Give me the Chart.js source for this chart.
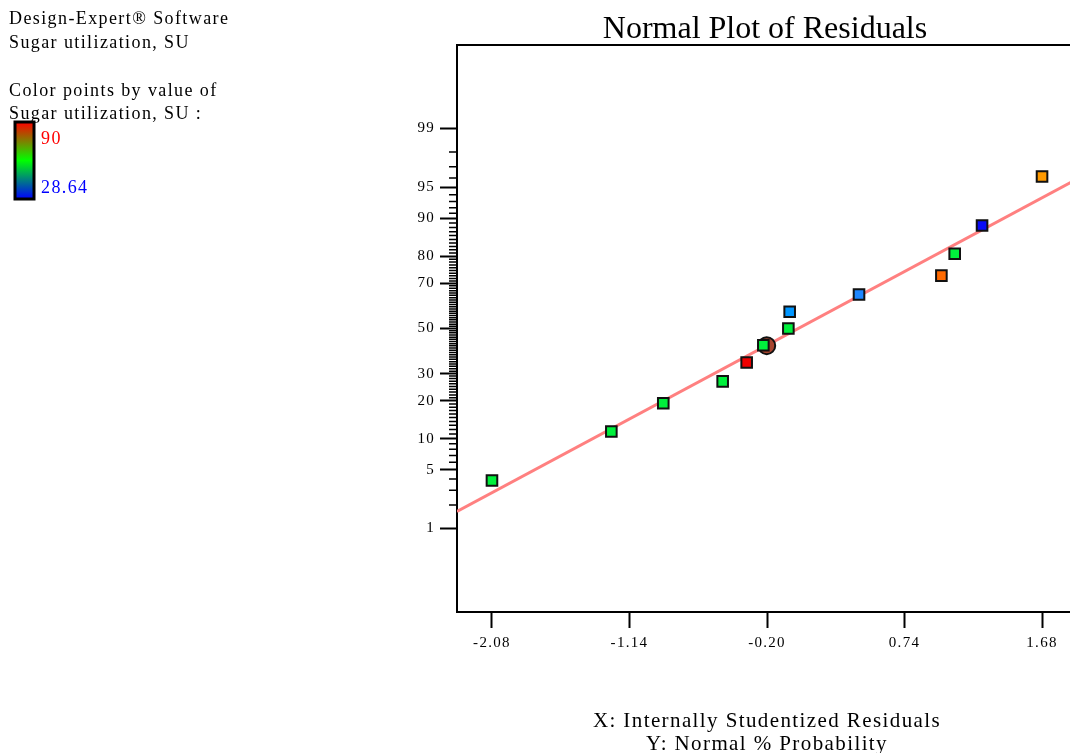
<!DOCTYPE html>
<html>
<head>
<meta charset="utf-8">
<script src="https://cdn.jsdelivr.net/npm/chart.js@4.4.1/dist/chart.umd.min.js"></script>
<style>
  html, body { margin: 0; padding: 0; background: #fff; overflow: hidden; width: 1070px; height: 753px; }
  canvas { position: absolute; left: 0; top: 0; }
</style>
</head>
<body>
<canvas id="chart" width="1090" height="753"></canvas>
<script>
const residuals = [-2.08, -1.264, -0.909, -0.503, -0.339, -0.225, -0.054, -0.045, 0.429, 0.992, 1.083, 1.270, 1.68];
const probabilities = [3.85, 11.54, 19.23, 26.92, 34.62, 42.31, 50, 57.69, 65.38, 73.08, 80.77, 88.46, 96.15];
// colour of each point (by Sugar utilization value)
const pointColors = ['#00f03c', '#00f03c', '#00f03c', '#00f03c', '#f00000', '#00f03c', '#00f03c',
  '#0096ff', '#1e86ff', '#ff6a00', '#00f03c', '#0a0af5', '#ff9a00'];

// highlighted (circled) run
const circledResidual = [-0.202];
const circledProbability = [42.1];

// reference line ends
const fitResiduals = [-2.319, 1.919];
const fitProbabilities = [1.67, 95.88];

// axes
const xTicks = [-2.08, -1.14, -0.20, 0.74, 1.68];
const xTickLabels = ['-2.08', '-1.14', '-0.20', '0.74', '1.68'];
const probTicks = [1, 5, 10, 20, 30, 50, 70, 80, 90, 95, 99];
const zLimit = 3.297;

// inverse normal cdf (Acklam)
function probit(p) {
  const a = [-39.69683028665376, 220.9460984245205, -275.9285104469687, 138.3577518672690, -30.66479806614716, 2.506628277459239];
  const b = [-54.47609879822406, 161.5858368580409, -155.6989798598866, 66.80131188771972, -13.28068155288572];
  const c = [-0.007784894002430293, -0.3223964580411365, -2.400758277161838, -2.549732539343734, 4.374664141464968, 2.938163982698783];
  const d = [0.007784695709041462, 0.3224671290700398, 2.445134137142996, 3.754408661907416];
  const pl = 0.02425;
  let q, r;
  if (p < pl) {
    q = Math.sqrt(-2 * Math.log(p));
    return (((((c[0] * q + c[1]) * q + c[2]) * q + c[3]) * q + c[4]) * q + c[5]) / ((((d[0] * q + d[1]) * q + d[2]) * q + d[3]) * q + 1);
  }
  if (p > 1 - pl) {
    q = Math.sqrt(-2 * Math.log(1 - p));
    return -(((((c[0] * q + c[1]) * q + c[2]) * q + c[3]) * q + c[4]) * q + c[5]) / ((((d[0] * q + d[1]) * q + d[2]) * q + d[3]) * q + 1);
  }
  q = p - 0.5;
  r = q * q;
  return (((((a[0] * r + a[1]) * r + a[2]) * r + a[3]) * r + a[4]) * r + a[5]) * q / (((((b[0] * r + b[1]) * r + b[2]) * r + b[3]) * r + b[4]) * r + 1);
}

const points = residuals.map((x, i) => ({ x, y: probit(probabilities[i] / 100) }));
const circled = circledResidual.map((x, i) => ({ x, y: probit(circledProbability[i] / 100) }));
const fit = fitResiduals.map((x, i) => ({ x, y: probit(fitProbabilities[i] / 100) }));

const SERIF = "'Liberation Serif', 'Times New Roman', serif";

const frame = {
  id: 'frame',
  beforeDraw(chart) {
    chart.ctx.letterSpacing = '1.3px';
  },
  beforeDatasetsDraw(chart) {
    const { ctx, chartArea: a, scales: { y } } = chart;
    ctx.save();
    ctx.strokeStyle = '#000';
    ctx.lineWidth = 2;
    ctx.strokeRect(a.left, a.top, a.right - a.left, a.bottom - a.top);
    // minor ticks at every whole percent
    ctx.lineWidth = 1.5;
    ctx.beginPath();
    for (let p = 2; p <= 98; p++) {
      if (probTicks.includes(p)) continue;
      const py = y.getPixelForValue(probit(p / 100));
      ctx.moveTo(a.left - 8, py);
      ctx.lineTo(a.left, py);
    }
    ctx.stroke();
    ctx.restore();
  },
  afterDraw(chart) {
    const ctx = chart.ctx;
    ctx.save();
    ctx.letterSpacing = '1.4px';
    ctx.fillStyle = '#000';
    ctx.textAlign = 'left';
    ctx.textBaseline = 'alphabetic';
    ctx.font = '18px ' + SERIF;
    ctx.fillText('Design-Expert® Software', 9, 24);
    ctx.fillText('Sugar utilization, SU', 9, 47.7);
    ctx.fillText('Color points by value of', 9, 96);
    ctx.fillText('Sugar utilization, SU :', 9, 119.3);

    // colour scale
    const g = ctx.createLinearGradient(0, 122, 0, 199);
    g.addColorStop(0, '#ff0000');
    g.addColorStop(0.5, '#00ff00');
    g.addColorStop(1, '#0000ff');
    ctx.fillStyle = g;
    ctx.fillRect(15, 122, 19, 77);
    ctx.lineWidth = 3;
    ctx.strokeStyle = '#000';
    ctx.strokeRect(15, 122, 19, 77);
    ctx.fillStyle = '#ff0000';
    ctx.fillText('90', 41, 144);
    ctx.fillStyle = '#0000ff';
    ctx.fillText('28.64', 41, 192.5);

    // title
    ctx.letterSpacing = '0px';
    ctx.fillStyle = '#000';
    ctx.textAlign = 'center';
    ctx.font = '32px ' + SERIF;
    ctx.fillText('Normal Plot of Residuals', 765, 38);

    // axis captions
    ctx.letterSpacing = '1.4px';
    ctx.font = '21px ' + SERIF;
    ctx.fillText('X: Internally Studentized Residuals', 767, 727);
    ctx.fillText('Y: Normal % Probability', 767, 749.5);
    ctx.restore();
  }
};

new Chart(document.getElementById('chart'), {
  type: 'scatter',
  data: {
    datasets: [
      {
        data: points,
        pointStyle: 'rect',
        pointRadius: 7.5,
        pointHoverRadius: 7.5,
        pointBackgroundColor: pointColors,
        pointBorderColor: '#111',
        pointBorderWidth: 2
      },
      {
        data: circled,
        pointStyle: 'circle',
        pointRadius: 8.5,
        pointBackgroundColor: '#a8452f',
        pointBorderColor: '#111',
        pointBorderWidth: 2
      },
      {
        data: fit,
        showLine: true,
        borderColor: '#ff8080',
        borderWidth: 3,
        pointRadius: 0,
        fill: false
      }
    ]
  },
  options: {
    responsive: false,
    animation: false,
    devicePixelRatio: 1,
    layout: { padding: { left: 0, top: 45, right: 13, bottom: 0 } },
    plugins: {
      legend: { display: false },
      tooltip: { enabled: false },
      title: { display: false }
    },
    scales: {
      x: {
        type: 'linear',
        min: -2.319,
        max: 1.919,
        afterBuildTicks: s => { s.ticks = xTicks.map(v => ({ value: v })); },
        afterFit: s => { s.height = 141; },
        grid: { drawOnChartArea: false, tickLength: 16, tickColor: '#000', tickWidth: 2 },
        border: { color: '#000', width: 2 },
        ticks: {
          color: '#000',
          font: { family: SERIF, size: 15 },
          padding: 6,
          maxRotation: 0,
          autoSkip: false,
          callback: (v, i) => xTickLabels[i]
        }
      },
      y: {
        type: 'linear',
        min: -zLimit,
        max: zLimit,
        afterBuildTicks: s => { s.ticks = probTicks.map(p => ({ value: probit(p / 100) })); },
        afterFit: s => { s.width = 457; },
        grid: { drawOnChartArea: false, tickLength: 17, tickColor: '#000', tickWidth: 2 },
        border: { color: '#000', width: 2 },
        ticks: {
          color: '#000',
          font: { family: SERIF, size: 15 },
          padding: 5,
          autoSkip: false,
          callback: (v, i) => String(probTicks[i])
        }
      }
    }
  },
  plugins: [frame]
});
</script>
</body>
</html>
